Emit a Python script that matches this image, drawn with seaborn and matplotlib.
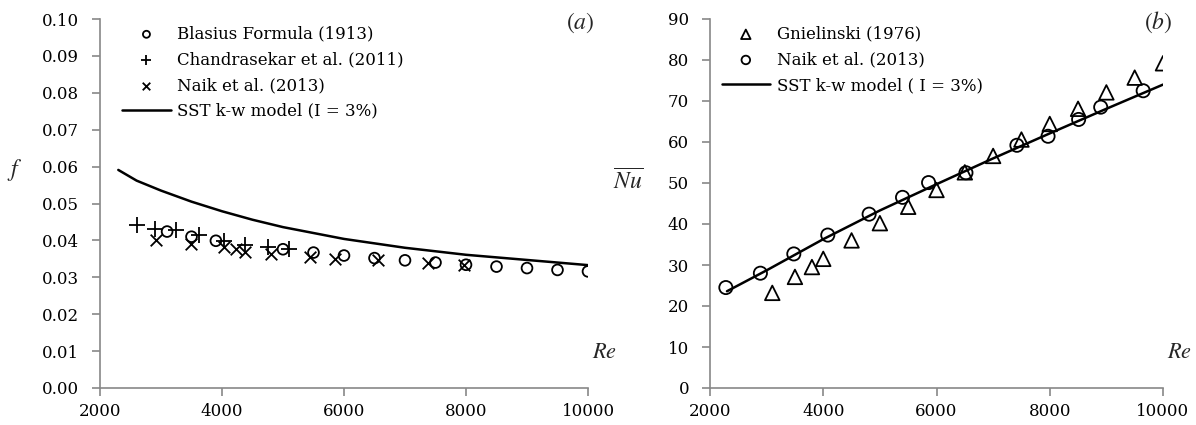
import matplotlib
matplotlib.use("Agg")
import matplotlib.pyplot as plt
import seaborn as sns

# (a) friction factor
re_blasius = [3100, 3500, 3900, 5000, 5500, 6000, 6500, 7000, 7500, 8000, 8500, 9000, 9500, 10000]
f_blasius = [0.0424, 0.0410, 0.0399, 0.0376, 0.0367, 0.0359, 0.0352, 0.0346, 0.0340, 0.0334, 0.0329, 0.0325, 0.0320, 0.0316]

re_chandra = [2600, 2900, 3250, 3620, 4030, 4370, 4760, 5100]
f_chandra = [0.0443, 0.0430, 0.0427, 0.0414, 0.0398, 0.0388, 0.0381, 0.0377]

re_naik_f = [2910, 3490, 4040, 4230, 4380, 4810, 5440, 5850, 6550, 7370, 7970]
f_naik = [0.0400, 0.0389, 0.0383, 0.0376, 0.0368, 0.0364, 0.0355, 0.0349, 0.0346, 0.0338, 0.0332]

re_sst_f = [2300, 2600, 3000, 3500, 4000, 4500, 5000, 6000, 7000, 8000, 9000, 10000]
f_sst = [0.0591, 0.0562, 0.0535, 0.0505, 0.0479, 0.0456, 0.0436, 0.0404, 0.0380, 0.0361, 0.0347, 0.0333]

# (b) Nusselt number
re_gniel = [3100, 3500, 3800, 4000, 4500, 5000, 5500, 6000, 6500, 7000, 7500, 8000, 8500, 9000, 9500, 10000]
nu_gniel = [23.2, 27.1, 29.5, 31.5, 36.0, 40.2, 44.2, 48.3, 52.6, 56.6, 60.6, 64.4, 68.1, 72.1, 75.7, 79.2]

re_naik_nu = [2280, 2890, 3480, 4080, 4810, 5400, 5860, 6520, 7420, 7970, 8510, 8900, 9650]
nu_naik = [24.5, 28.0, 32.7, 37.3, 42.4, 46.5, 50.1, 52.5, 59.2, 61.4, 65.5, 68.5, 72.5]

re_sst_nu = [2300, 3000, 4000, 5000, 6000, 7000, 8000, 9000, 10000]
nu_sst = [23.6, 28.7, 36.3, 43.3, 49.7, 56.0, 62.1, 68.1, 74.0]

sns.set_theme(style="white")
plt.rcParams['font.family'] = ['DejaVu Serif']
plt.rcParams['mathtext.fontset'] = 'stix'
FS = 12

fig = plt.figure(figsize=(11.96, 4.25), dpi=100)
ax1 = fig.add_axes([100 / 1196, 1 - 388 / 425, 488 / 1196, 369 / 425])
ax2 = fig.add_axes([710 / 1196, 1 - 388 / 425, 453 / 1196, 369 / 425])

# ---- panel (a)
sns.scatterplot(x=re_blasius, y=f_blasius, ax=ax1, marker='o', s=60, facecolor='none',
                edgecolor='black', linewidth=1.3, label='Blasius Formula (1913)', zorder=3)
sns.scatterplot(x=re_chandra, y=f_chandra, ax=ax1, marker='+', s=120, color='black',
                linewidth=1.3, label='Chandrasekar et al. (2011)', zorder=3)
sns.scatterplot(x=re_naik_f, y=f_naik, ax=ax1, marker='x', s=70, color='black',
                linewidth=1.3, label='Naik et al. (2013)', zorder=3)
sns.lineplot(x=re_sst_f, y=f_sst, ax=ax1, color='black', linewidth=1.8,
             label='SST k-w model (I = 3%)', zorder=2)
ax1.set_xlim(2000, 10000)
ax1.set_ylim(0, 0.10)
ax1.set_xticks(range(2000, 10001, 2000))
ax1.set_yticks([i / 100 for i in range(11)])
ax1.set_yticklabels([f"{i / 100:.2f}" for i in range(11)])

# ---- panel (b)
sns.scatterplot(x=re_gniel, y=nu_gniel, ax=ax2, marker='^', s=110, facecolor='none',
                edgecolor='black', linewidth=1.3, label='Gnielinski (1976)', zorder=3)
sns.scatterplot(x=re_naik_nu, y=nu_naik, ax=ax2, marker='o', s=90, facecolor='none',
                edgecolor='black', linewidth=1.3, label='Naik et al. (2013)', zorder=3)
sns.lineplot(x=re_sst_nu, y=nu_sst, ax=ax2, color='black', linewidth=1.8,
             label='SST k-w model ( I = 3%)', zorder=2)
ax2.set_xlim(2000, 10000)
ax2.set_ylim(0, 90)
ax2.set_xticks(range(2000, 10001, 2000))
ax2.set_yticks(range(0, 91, 10))

for ax, lx in ((ax1, 0.032), (ax2, 0.011)):
    for s in ('top', 'right'):
        ax.spines[s].set_visible(False)
    for s in ('left', 'bottom'):
        ax.spines[s].set_color('#888888')
        ax.spines[s].set_linewidth(1.2)
    ax.tick_params(axis='both', direction='out', length=6, width=1.2, color='#888888',
                   labelsize=FS, labelcolor='black', left=True, bottom=True)
    ax.tick_params(axis='y', pad=9)
    ax.tick_params(axis='x', pad=5)
    ax.set_xlabel('')
    ax.set_ylabel('')
    ax.text(1.008, 0.068, '$Re$', transform=ax.transAxes, ha='left', va='bottom',
            fontsize=16)
    leg = ax.legend(loc='upper left', bbox_to_anchor=(lx, 1.0), frameon=False, fontsize=FS,
                    handlelength=2.9, handletextpad=0.4, labelspacing=0.52, markerscale=0.65,
                    borderaxespad=0)
    for t in leg.get_texts():
        t.set_color('black')

ax1.text(0.985, 0.99, '$(a)$', transform=ax1.transAxes, ha='center', va='center', fontsize=17)
ax2.text(0.99, 0.99, '$(b)$', transform=ax2.transAxes, ha='center', va='center', fontsize=17)
fig.text(15 / 1196, 1 - 170 / 425, '$f$', ha='center', va='center', fontsize=17)
fig.text(628 / 1196, 1 - 182 / 425, r'$\overline{Nu}$', ha='center', va='center', fontsize=17)

fig.savefig('out.png', dpi=100)
